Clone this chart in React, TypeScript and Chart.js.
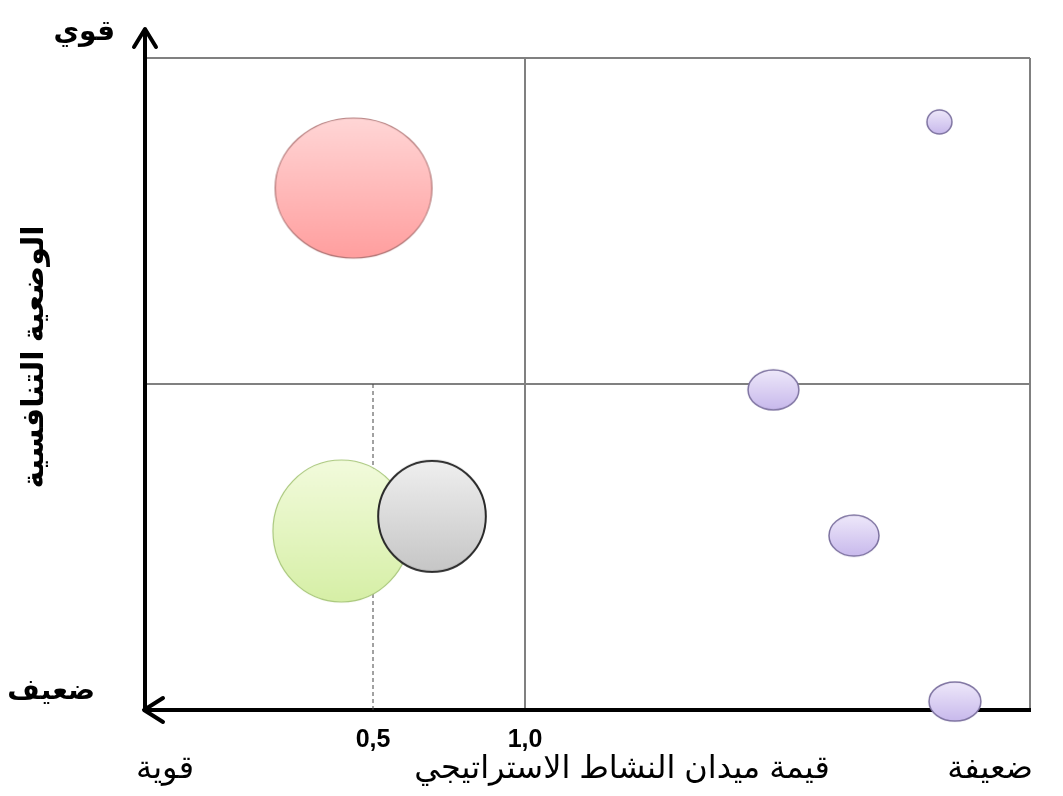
import React, { useEffect, useRef } from 'react';
import { Chart, registerables } from 'chart.js';

Chart.register(...registerables);

// ---------- data ----------
const bubbleNames = ['A', 'B', 'C', 'D', 'E', 'F', 'G'];
const xValues = [0.436, 0.396, 0.694, 2.363, 1.817, 2.082, 2.414];
const yValues = [1.601, 0.549, 0.594, 1.804, 0.982, 0.535, 0.026];
const radiusValues = [70, 71, 55.5, 12, 20, 20.5, 19.5];

const xMin = -0.25;
const xMax = 2.661;
const yMin = 0;
const yMid = 1;
const yMax = 2;
const xTickValues = [0.5, 1.0];
const xTickLabels = ['0,5', '1,0'];
const dashedXValues = [0.5, 0.5];
const dashedYValues = [yMid, yMin];

const yTopLabel = 'قوي';
const yBottomLabel = 'ضعيف';
const yTitle = 'الوضعية التنافسية';
const xLeftLabel = 'قوية';
const xRightLabel = 'ضعيفة';
const xTitle = 'قيمة ميدان النشاط الاستراتيجي';

// ---------- styles ----------
const bubbleAspect = [1.12, 0.965, 0.97, 1.04, 1.27, 1.22, 1.33];
const bubbleTopColor = ['#ffd6d6', '#f2fbdc', '#efefef', '#eee8fa', '#eee8fa', '#eee8fa', '#eee8fa'];
const bubbleBottomColor = ['#ff9e9e', '#d6efa6', '#c6c6c6', '#c8b9ec', '#c8b9ec', '#c8b9ec', '#c8b9ec'];
const bubbleStroke = ['#b07575', '#a9c77c', '#2a2a2a', '#7d72a0', '#7d72a0', '#7d72a0', '#7d72a0'];
const bubbleStrokeWidth = [1.2, 1.2, 2, 1.5, 1.5, 1.5, 1.5];

const FONT = '"Liberation Sans", "DejaVu Sans", Arial, sans-serif';
const GRID = '#808080';

function makeEllipse(ry: number, aspect: number, top: string, bottom: string, stroke: string, lw: number) {
  const rx = ry * aspect;
  const c = document.createElement('canvas');
  const w = Math.ceil(2 * rx + lw + 4);
  const h = Math.ceil(2 * ry + lw + 4);
  c.width = w;
  c.height = h;
  const g = c.getContext('2d')!;
  const grad = g.createLinearGradient(0, h / 2 - ry, 0, h / 2 + ry);
  grad.addColorStop(0, top);
  grad.addColorStop(1, bottom);
  g.beginPath();
  g.ellipse(w / 2, h / 2, rx, ry, 0, 0, Math.PI * 2);
  g.fillStyle = grad;
  g.fill();
  g.lineWidth = lw;
  g.strokeStyle = stroke;
  g.stroke();
  return c;
}

const decorPlugin = {
  id: 'decor',
  afterDraw(chart: any) {
    const { ctx, chartArea: a } = chart;
    ctx.save();
    ctx.strokeStyle = '#000';
    ctx.lineWidth = 4;
    ctx.lineCap = 'round';
    ctx.lineJoin = 'round';
    // extend vertical axis upward
    ctx.beginPath();
    ctx.moveTo(a.left, a.top + 2);
    ctx.lineTo(a.left, a.top - 28);
    ctx.stroke();
    // up arrow head
    ctx.beginPath();
    ctx.moveTo(a.left - 11, a.top - 11);
    ctx.lineTo(a.left, a.top - 29);
    ctx.lineTo(a.left + 11, a.top - 11);
    ctx.stroke();
    // left arrow head
    ctx.beginPath();
    ctx.moveTo(a.left + 18, a.bottom - 12);
    ctx.lineTo(a.left - 1, a.bottom);
    ctx.lineTo(a.left + 18, a.bottom + 12);
    ctx.stroke();

    ctx.fillStyle = '#000';
    ctx.textBaseline = 'middle';
    ctx.font = `bold 28px ${FONT}`;
    ctx.textAlign = 'right';
    ctx.fillText(yTopLabel, a.left - 30, 32);
    ctx.fillText(yBottomLabel, a.left - 50, a.bottom - 19);

    ctx.font = `32px ${FONT}`;
    ctx.textAlign = 'center';
    ctx.fillText(xLeftLabel, 165, 769);
    ctx.fillText(xTitle, 622, 769);
    ctx.fillText(xRightLabel, 990, 769);

    ctx.save();
    ctx.translate(35, 357);
    ctx.rotate(-Math.PI / 2);
    ctx.font = `bold 30px ${FONT}`;
    ctx.fillText(yTitle, 0, 0);
    ctx.restore();
    ctx.restore();
  },
};

export default function App() {
  const ref = useRef<HTMLCanvasElement | null>(null);

  useEffect(() => {
    if (!ref.current) return;
    const images = radiusValues.map((r, i) =>
      makeEllipse(r, bubbleAspect[i], bubbleTopColor[i], bubbleBottomColor[i], bubbleStroke[i], bubbleStrokeWidth[i])
    );
    const chart = new Chart(ref.current, {
      type: 'bubble',
      data: {
        labels: bubbleNames,
        datasets: [
          {
            type: 'bubble',
            label: 'bubbles',
            order: 0,
            clip: false,
            data: xValues.map((x, i) => ({ x, y: yValues[i], r: radiusValues[i] })),
            pointStyle: (c: any) => images[c.dataIndex],
          } as any,
          {
            type: 'line',
            label: 'dash',
            order: 1,
            data: dashedXValues.map((x, i) => ({ x, y: dashedYValues[i] })),
            borderColor: '#444',
            borderWidth: 1,
            borderDash: [4, 3],
            pointRadius: 0,
            fill: false,
          } as any,
        ],
      },
      options: {
        animation: false,
        responsive: true,
        maintainAspectRatio: false,
        events: [],
        layout: { autoPadding: false, padding: { top: 58, right: 33, left: 0, bottom: 0 } },
        plugins: { legend: { display: false }, tooltip: { enabled: false } },
        scales: {
          x: {
            type: 'linear',
            min: xMin,
            max: xMax,
            afterBuildTicks: (s: any) => {
              s.ticks = [xMin, ...xTickValues, xMax].map((v) => ({ value: v }));
            },
            afterFit: (s: any) => {
              s.height = 86;
            },
            grid: {
              drawTicks: false,
              lineWidth: 2,
              color: (c: any) => (c.tick && (c.tick.value === 1.0 || c.tick.value === xMax) ? GRID : 'rgba(0,0,0,0)'),
            },
            border: { display: true, color: '#000', width: 4 },
            ticks: {
              padding: 15,
              autoSkip: false,
              maxRotation: 0,
              color: '#000',
              font: { family: FONT, size: 25, weight: 'bold' },
              callback: (v: any) => {
                const i = xTickValues.indexOf(Number(v));
                return i >= 0 ? xTickLabels[i] : '';
              },
            },
          },
          y: {
            type: 'linear',
            min: yMin,
            max: yMax,
            afterBuildTicks: (s: any) => {
              s.ticks = [yMin, yMid, yMax].map((v) => ({ value: v }));
            },
            afterFit: (s: any) => {
              s.width = 145;
            },
            grid: {
              drawTicks: false,
              lineWidth: 2,
              color: (c: any) => (c.tick && c.tick.value !== yMin ? GRID : 'rgba(0,0,0,0)'),
            },
            border: { display: true, color: '#000', width: 4 },
            ticks: { display: false },
          },
        },
      } as any,
      plugins: [decorPlugin],
    });
    return () => chart.destroy();
  }, []);

  return (
    <div style={{ position: 'fixed', left: 0, top: 0, width: 1063, height: 796, background: '#fff' }}>
      <canvas ref={ref} />
    </div>
  );
}
